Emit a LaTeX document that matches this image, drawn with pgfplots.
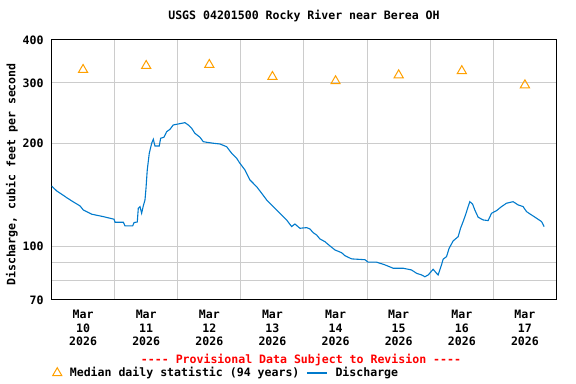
\documentclass[border=0pt]{standalone}
\usepackage{fontspec}
\setmonofont{DejaVu Sans Mono}
\usepackage{pgfplots}
\pgfplotsset{compat=1.18}
\definecolor{qblue}{RGB}{0,122,204}
\definecolor{qorange}{RGB}{255,160,0}
\definecolor{qgrid}{RGB}{204,204,204}
\pgfplotsset{
  medleg/.style={legend image code/.code={\draw[##1] plot coordinates {(4bp,0bp)};}},
  disleg/.style={legend image code/.code={\draw[##1] (0bp,0bp) -- (20bp,0bp);}},
}
\begin{document}
\begin{tikzpicture}[font=\ttfamily\bfseries\fontsize{11.6}{13}\selectfont]
\useasboundingbox (0,0) rectangle (576bp,384bp);
\begin{axis}[
  name=main,
  at={(51.5bp,84bp)}, anchor=south west,
  width=505bp, height=260bp, scale only axis,
  xmin=0, xmax=8, ymode=log, ymin=70, ymax=400,
  axis line style={black, line width=1bp},
  /pgf/number format/assume math mode=true,
  xtick={0.5,1.5,2.5,3.5,4.5,5.5,6.5,7.5},
  xticklabels={{Mar\\10\\2026},{Mar\\11\\2026},{Mar\\12\\2026},{Mar\\13\\2026},{Mar\\14\\2026},{Mar\\15\\2026},{Mar\\16\\2026},{Mar\\17\\2026}},
  xticklabel style={align=center, yshift=-7bp, font=\ttfamily\bfseries\fontsize{11.6}{13.5}\selectfont},
  minor xtick={1,2,3,4,5,6,7},
  xminorgrids=true,
  ytick={70,100,200,300,400},
  yticklabels={70,100,200,300,400},
  yticklabel style={xshift=-4.5bp, font=\ttfamily\bfseries\fontsize{11.6}{13}\selectfont},
  minor ytick={80,90},
  ymajorgrids=true, yminorgrids=true,
  major tick length=0pt, minor tick length=0pt,
  grid style={qgrid, line width=1bp},
  minor grid style={qgrid, line width=1bp},
  title={USGS 04201500 Rocky River near Berea OH},
  title style={at={(0.5,1)}, anchor=base, yshift=15bp, font=\ttfamily\bfseries\fontsize{11.6}{13}\selectfont},
  legend columns=2,
  legend style={at={(axis description cs:-0.004,-0.2808)}, anchor=west, draw=none, fill=none,
    font=\ttfamily\bfseries\fontsize{11.6}{13}\selectfont,
    /tikz/every odd column/.append style={column sep=6bp},
    /tikz/every even column/.append style={column sep=5bp}},
  clip=true,
]
\addplot[only marks, mark=triangle, mark size=5.3bp, qorange, mark options={line width=1bp}, medleg]
  coordinates {(0.5,327.6)(1.5,336.5)(2.5,338.8)(3.5,312.6)(4.5,303.7)(5.5,316)(6.5,325)(7.5,295.6)};
\addlegendentry{Median daily statistic (94 years)}
\addplot[qblue, line width=1.1bp, mark=none, disleg]
  coordinates {(0.003,150.3)(0.082,145.4)(0.162,142.2)(0.241,139.0)(0.320,136.0)(0.452,131.5)(0.504,128.0)(0.637,124.4)(0.821,122.4)(0.990,120.3)(1.006,117.9)(1.138,117.9)(1.165,115.0)(1.286,115.0)(1.307,117.6)(1.359,118.1)(1.375,129.5)(1.402,130.9)(1.428,125.2)(1.454,131.5)(1.481,136.9)(1.497,148.0)(1.517,167.4)(1.549,187.2)(1.587,200.2)(1.613,205.6)(1.639,196.6)(1.707,196.6)(1.729,207.0)(1.782,208.4)(1.824,216.3)(1.877,219.8)(1.929,226.3)(2.008,227.8)(2.114,229.8)(2.166,226.3)(2.220,221.3)(2.272,214.0)(2.352,208.4)(2.404,202.3)(2.458,201.5)(2.562,200.2)(2.669,199.2)(2.775,195.6)(2.854,187.2)(2.933,181.0)(2.985,175.0)(3.064,167.4)(3.144,156.5)(3.250,149.6)(3.329,143.2)(3.408,136.9)(3.512,130.9)(3.618,125.2)(3.725,119.7)(3.804,114.5)(3.856,116.5)(3.935,113.2)(4.041,113.7)(4.094,112.7)(4.146,109.9)(4.200,108.2)(4.252,105.4)(4.331,103.5)(4.410,100.6)(4.490,97.9)(4.596,96.1)(4.648,94.2)(4.754,92.2)(4.964,91.7)(5.017,90.2)(5.150,90.2)(5.281,88.6)(5.413,86.6)(5.571,86.6)(5.704,85.6)(5.784,83.7)(5.863,82.8)(5.915,81.8)(5.968,82.8)(6.046,86.0)(6.100,83.7)(6.125,82.8)(6.179,88.6)(6.204,92.0)(6.258,93.6)(6.299,99.0)(6.363,104.0)(6.442,107.0)(6.480,113.2)(6.521,118.4)(6.564,124.6)(6.600,130.9)(6.627,135.3)(6.670,133.2)(6.706,128.0)(6.759,121.9)(6.838,119.7)(6.917,119.2)(6.971,125.2)(7.050,127.4)(7.129,130.9)(7.208,133.9)(7.313,135.3)(7.392,132.4)(7.471,130.9)(7.525,126.6)(7.604,123.8)(7.684,121.1)(7.763,118.4)(7.804,114.5)};
\addlegendentry{Discharge}
\end{axis}
\node[text=red, font=\ttfamily\bfseries\fontsize{11.6}{13}\selectfont] at ([yshift=-60bp, xshift=-3bp]main.south) {{-}{-}{-}{-} Provisional Data Subject to Revision {-}{-}{-}{-}};
\node[rotate=90, font=\ttfamily\bfseries\fontsize{11.6}{13}\selectfont] at (12bp,209.5bp) {Discharge, cubic feet per second};
\end{tikzpicture}
\end{document}
